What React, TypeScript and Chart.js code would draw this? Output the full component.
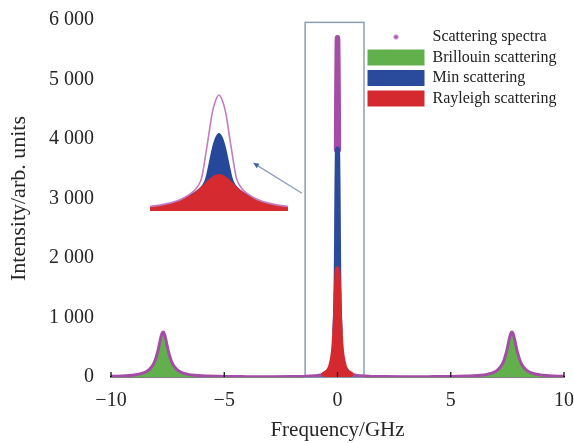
import React, { useEffect, useRef } from 'react';
import { Chart, registerables } from 'chart.js';

Chart.register(...registerables);

// ---------- data (GHz / arb. units) ----------
const freqMain = [
  -10, -9.1, -8.5, -8.3, -8.15, -8.05, -7.95, -7.9, -7.85, -7.8, -7.75, -7.7, -7.65, -7.6, -7.55, -7.5,
  -7.45, -7.35, -7.25, -7.1, -6.9, -6.6, -6.3, -6, -5, -4, -3, -2, -1.5, -1, -0.7, -0.5, -0.4, -0.3,
  -0.2, -0.15, -0.1, -0.08, -0.06, -0.05, -0.04, -0.03, -0.02, -0.01, 0,
  0.01, 0.02, 0.03, 0.04, 0.05, 0.06, 0.08, 0.1, 0.15, 0.2, 0.3, 0.4, 0.5, 0.7, 1, 1.5, 2, 3, 4, 5, 6,
  6.3, 6.6, 6.9, 7.1, 7.25, 7.35, 7.45, 7.5, 7.55, 7.6, 7.65, 7.7, 7.75, 7.8, 7.85, 7.9, 7.95, 8.05,
  8.15, 8.3, 8.5, 9.1, 10,
];
const totalSpectrum = [
  11, 28, 78, 128, 201, 283, 408, 488, 578, 665, 731, 756, 731, 665, 578, 488,
  408, 283, 201, 128, 78, 44, 28, 20, 9, 6, 5, 7, 10, 20, 38, 72, 112, 200,
  388, 599, 998, 1368, 2337, 3078, 3820, 4674, 5130, 5530, 5700,
  5530, 5130, 4674, 3820, 3078, 2337, 1368, 998, 599, 388, 200, 112, 72, 38, 20, 10, 7, 5, 6, 9, 20,
  28, 44, 78, 128, 201, 283, 408, 488, 578, 665, 731, 756, 731, 665, 578, 488, 408, 283,
  201, 128, 78, 28, 11,
];
const brillouin = [
  10, 27, 77, 127, 200, 282, 407, 487, 577, 664, 730, 755, 730, 664, 577, 487,
  407, 282, 200, 127, 77, 43, 27, 19, 8, 4, 3, 2, 2, 2, 2, 2, 2, 2,
  2, 2, 2, 2, 2, 2, 2, 2, 2, 2, 2,
  2, 2, 2, 2, 2, 2, 2, 2, 2, 2, 2, 2, 2, 2, 2, 2, 2, 3, 4, 8, 19,
  27, 43, 77, 127, 200, 282, 407, 487, 577, 664, 730, 755, 730, 664, 577, 487, 407, 282,
  200, 127, 77, 27, 10,
];
const freqMie = [-0.12, -0.1, -0.08, -0.06, -0.05, -0.04, -0.03, -0.02, -0.01, 0, 0.01, 0.02, 0.03, 0.04, 0.05, 0.06, 0.08, 0.1, 0.12];
const mieScattering = [745, 914, 1163, 1599, 1943, 2381, 2877, 3352, 3701, 3830, 3701, 3352, 2877, 2381, 1943, 1599, 1163, 914, 745];
const freqRayleigh = [-0.6, -0.5, -0.4, -0.3, -0.2, -0.15, -0.1, -0.08, -0.06, -0.04, -0.02, 0, 0.02, 0.04, 0.06, 0.08, 0.1, 0.15, 0.2, 0.3, 0.4, 0.5, 0.6];
const rayleigh = [49, 70, 107, 182, 364, 559, 909, 1109, 1337, 1567, 1748, 1818, 1748, 1567, 1337, 1109, 909, 559, 364, 182, 107, 70, 49];

// inset (zoomed central peak, normalised)
const insetFreq = [-1, -0.8, -0.6, -0.5, -0.4, -0.35, -0.3, -0.25, -0.2, -0.15, -0.1, -0.05, 0, 0.05, 0.1, 0.15, 0.2, 0.25, 0.3, 0.35, 0.4, 0.5, 0.6, 0.8, 1];
const insetTotal = [0.039, 0.057, 0.089, 0.117, 0.155, 0.18, 0.22, 0.29, 0.46, 0.65, 0.84, 0.95, 1, 0.95, 0.84, 0.65, 0.46, 0.29, 0.22, 0.18, 0.155, 0.117, 0.089, 0.057, 0.039];
const insetMie = [0.037, 0.055, 0.086, 0.112, 0.148, 0.165, 0.19, 0.22, 0.28, 0.41, 0.55, 0.64, 0.672, 0.64, 0.55, 0.41, 0.28, 0.22, 0.19, 0.165, 0.148, 0.112, 0.086, 0.055, 0.037];
const insetRayleigh = [0.037, 0.054, 0.084, 0.109, 0.143, 0.164, 0.188, 0.215, 0.244, 0.272, 0.296, 0.313, 0.319, 0.313, 0.296, 0.272, 0.244, 0.215, 0.188, 0.164, 0.143, 0.109, 0.084, 0.054, 0.037];

const xTickValues = [-10, -5, 0, 5, 10];
const xTickLabels = ['\u221210', '\u22125', '0', '5', '10'];
const yTickValues = [0, 1000, 2000, 3000, 4000, 5000, 6000];
const yTickLabels = ['0', '1 000', '2 000', '3 000', '4 000', '5 000', '6 000'];
const seriesNames = ['Scattering spectra', 'Brillouin scattering', 'Min scattering', 'Rayleigh scattering'];

// annotation geometry in data units
const zoomBox = { xMin: -1.43, xMax: 1.17, yMax: 5960 };
const arrowFrom = { x: -1.57, y: 3090 };
const arrowTo = { x: -3.73, y: 3600 };

const COLORS = {
  total: '#a44ca6',
  green: '#62b04b',
  blue: '#2a4b9c',
  red: '#d42a2f',
  insetBlue: '#26479a',
  insetRed: '#d42a30',
  insetPink: '#c47cc0',
  box: '#8e9db2',
  arrow: '#8b9bb8',
  arrowHead: '#4a63a6',
  text: '#262626',
};

const FONT = "'Liberation Serif', 'Times New Roman', serif";

const pts = (xs: number[], ys: number[]) => xs.map((x, i) => ({ x, y: ys[i] }));

function makeDot(): HTMLCanvasElement {
  const c = document.createElement('canvas');
  c.width = 7;
  c.height = 7;
  const g = c.getContext('2d')!;
  g.fillStyle = '#a955a9';
  g.beginPath();
  g.arc(3.5, 3.5, 2.3, 0, Math.PI * 2);
  g.fill();
  return c;
}

const decorations = {
  id: 'decorations',
  beforeDatasetsDraw(chart: any) {
    const { ctx, scales } = chart;
    const x = scales.x, y = scales.y;
    ctx.save();
    ctx.strokeStyle = COLORS.box;
    ctx.lineWidth = 1.5;
    const l = x.getPixelForValue(zoomBox.xMin);
    const r = x.getPixelForValue(zoomBox.xMax);
    const t = y.getPixelForValue(zoomBox.yMax);
    const b = y.getPixelForValue(0);
    ctx.strokeRect(l, t, r - l, b - t);
    ctx.restore();
  },
  afterDraw(chart: any) {
    const { ctx, scales } = chart;
    const x = scales.x, y = scales.y;
    ctx.save();
    // arrow
    const x0 = x.getPixelForValue(arrowFrom.x), y0 = y.getPixelForValue(arrowFrom.y);
    const x1 = x.getPixelForValue(arrowTo.x), y1 = y.getPixelForValue(arrowTo.y);
    const ang = Math.atan2(y1 - y0, x1 - x0);
    ctx.strokeStyle = COLORS.arrow;
    ctx.lineWidth = 1.2;
    ctx.beginPath();
    ctx.moveTo(x0, y0);
    ctx.lineTo(x1 - Math.cos(ang) * 3, y1 - Math.sin(ang) * 3);
    ctx.stroke();
    ctx.fillStyle = COLORS.arrowHead;
    const hl = 6, hw = 2.6;
    ctx.beginPath();
    ctx.moveTo(x1, y1);
    ctx.lineTo(x1 - Math.cos(ang) * hl - Math.sin(ang) * hw, y1 - Math.sin(ang) * hl + Math.cos(ang) * hw);
    ctx.lineTo(x1 - Math.cos(ang) * hl + Math.sin(ang) * hw, y1 - Math.sin(ang) * hl - Math.cos(ang) * hw);
    ctx.closePath();
    ctx.fill();
    // inward x ticks
    ctx.strokeStyle = '#000';
    ctx.lineWidth = 1.2;
    const base = y.getPixelForValue(0);
    xTickValues.forEach((v) => {
      const px = x.getPixelForValue(v);
      ctx.beginPath();
      ctx.moveTo(px, base);
      ctx.lineTo(px, base - 5);
      ctx.stroke();
    });
    ctx.restore();
  },
};

const legendPlacer = {
  id: 'legendPlacer',
  afterLayout(chart: any) {
    const lg = chart.legend;
    if (!lg) return;
    const w = lg.width, h = lg.height;
    lg.left = 363;
    lg.top = 24.5;
    lg.right = lg.left + w;
    lg.bottom = lg.top + h;
  },
};

export default function App() {
  const ref = useRef<HTMLCanvasElement | null>(null);

  useEffect(() => {
    if (!ref.current) return;
    const dot = makeDot();
    const legendColors = [COLORS.total, COLORS.green, COLORS.blue, COLORS.red];
    const chart = new Chart(ref.current, {
      type: 'line',
      data: {
        datasets: [
          {
            label: seriesNames[0],
            data: pts(freqMain, totalSpectrum),
            borderColor: COLORS.total,
            borderWidth: 3,
            pointRadius: 0,
            fill: false,
            order: 3,
            cubicInterpolationMode: 'monotone',
            borderJoinStyle: 'round',
            borderCapStyle: 'round',
            segment: {
              borderWidth: (c: any) => (Math.min(c.p0.parsed.y, c.p1.parsed.y) >= 3800 ? 5.5 : 3),
            },
          } as any,
          {
            label: seriesNames[1],
            data: pts(freqMain, brillouin),
            borderWidth: 0,
            backgroundColor: COLORS.green,
            pointRadius: 0,
            fill: { value: 0 },
            order: 4,
            cubicInterpolationMode: 'monotone',
          },
          {
            label: seriesNames[2],
            data: pts(freqMie, mieScattering),
            borderColor: COLORS.blue,
            backgroundColor: COLORS.blue,
            borderWidth: 5,
            borderJoinStyle: 'round',
            borderCapStyle: 'round',
            pointRadius: 0,
            fill: { value: 0 },
            order: 2,
            cubicInterpolationMode: 'monotone',
          },
          {
            label: seriesNames[3],
            data: pts(freqRayleigh, rayleigh),
            borderColor: COLORS.red,
            backgroundColor: COLORS.red,
            borderWidth: 5,
            borderJoinStyle: 'round',
            borderCapStyle: 'round',
            pointRadius: 0,
            fill: { value: 0 },
            order: 1,
            cubicInterpolationMode: 'monotone',
          },
          {
            label: 'inset-mie',
            data: pts(insetFreq, insetMie),
            xAxisID: 'xi',
            yAxisID: 'yi',
            borderWidth: 0,
            backgroundColor: COLORS.insetBlue,
            pointRadius: 0,
            fill: { value: 0 },
            order: -1,
            cubicInterpolationMode: 'monotone',
          },
          {
            label: 'inset-rayleigh',
            data: pts(insetFreq, insetRayleigh),
            xAxisID: 'xi',
            yAxisID: 'yi',
            borderWidth: 0,
            backgroundColor: COLORS.insetRed,
            pointRadius: 0,
            fill: { value: 0 },
            order: -2,
            cubicInterpolationMode: 'monotone',
          },
          {
            label: 'inset-total',
            data: pts(insetFreq, insetTotal),
            xAxisID: 'xi',
            yAxisID: 'yi',
            borderColor: COLORS.insetPink,
            borderWidth: 1.6,
            pointRadius: 0,
            fill: false,
            order: -3,
            cubicInterpolationMode: 'monotone',
          },
        ],
      },
      options: {
        animation: false,
        responsive: false,
        devicePixelRatio: 1,
        events: [],
        layout: { padding: { top: 20, right: 10, left: 0, bottom: 0 } },
        scales: {
          x: {
            type: 'linear',
            position: 'bottom',
            min: -10,
            max: 10,
            z: 1,
            grid: { display: false, drawTicks: false },
            border: { display: true, color: '#000', width: 1.5 },
            ticks: {
              stepSize: 5,
              padding: 12,
              color: COLORS.text,
              font: { family: FONT, size: 20 },
              callback: (v: any) => xTickLabels[xTickValues.indexOf(Number(v))],
            },
            title: {
              display: true,
              text: 'Frequency/GHz',
              color: COLORS.text,
              font: { family: FONT, size: 21, lineHeight: 1 },
              padding: { top: 0, bottom: 2 },
            },
            afterFit: (s: any) => {
              s.height = 66;
              s.paddingLeft = 0;
              s.paddingRight = 0;
            },
          },
          y: {
            type: 'linear',
            position: 'left',
            min: 0,
            max: 6000,
            grid: { display: false, drawTicks: false },
            border: { display: false },
            ticks: {
              stepSize: 1000,
              padding: 17,
              color: COLORS.text,
              font: { family: FONT, size: 20 },
              callback: (v: any) => yTickLabels[yTickValues.indexOf(Number(v))],
            },
            title: {
              display: true,
              text: 'Intensity/arb. units',
              color: COLORS.text,
              font: { family: FONT, size: 22, lineHeight: 1.2 },
              padding: { top: 6, bottom: 0 },
            },
            afterFit: (s: any) => {
              s.width = 111;
              s.paddingTop = 0;
              s.paddingBottom = 0;
            },
          },
          xi: { type: 'linear', axis: 'x', display: false, min: -1.565, max: 5.0 },
          yi: { type: 'linear', axis: 'y', display: false, min: -1.431, max: 1.6466 },
        },
        plugins: {
          tooltip: { enabled: false },
          legend: {
            display: true,
            position: 'chartArea',
            align: 'start',
            labels: {
              usePointStyle: true,
              pointStyleWidth: 57,
              boxWidth: 57,
              boxHeight: 16,
              padding: 4.5,
              color: '#222',
              font: { family: FONT, size: 16 },
              generateLabels: () =>
                seriesNames.map((text, i) => ({
                  text,
                  datasetIndex: i,
                  fillStyle: legendColors[i],
                  strokeStyle: legendColors[i],
                  lineWidth: 0,
                  pointStyle: i === 0 ? dot : 'rect',
                  hidden: false,
                  fontColor: '#222',
                })),
            },
          } as any,
        },
      } as any,
      plugins: [decorations, legendPlacer],
    });
    return () => chart.destroy();
  }, []);

  return (
    <div style={{ position: 'fixed', left: 0, top: 0, width: 574, height: 443, background: '#fff' }}>
      <canvas ref={ref} width={574} height={443} style={{ display: 'block', width: 574, height: 443 }} />
    </div>
  );
}
